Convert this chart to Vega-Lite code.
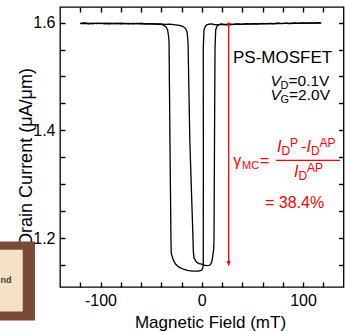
{
  "$schema": "https://vega.github.io/schema/vega-lite/v6.json",
  "width": 283.5,
  "height": 280,
  "autosize": {"type": "none"},
  "padding": {"left": 60, "top": 7, "right": 1.5, "bottom": 44},
  "background": "white",
  "data": {"values": [{}]},
  "config": {
    "view": {"stroke": "black", "strokeWidth": 1.3},
    "font": "Liberation Sans",
    "text": {"font": "Liberation Sans"},
    "axis": {"domain": false, "grid": false, "labelColor": "black", "titleColor": "black", "labelFont": "Liberation Sans", "titleFont": "Liberation Sans", "labelFontSize": 16, "titleFontWeight": "normal", "labelOverlap": false, "labelFlush": false, "labelBound": false}
  },
  "datasets": {
    "curve": [
      {"s": 1, "x": -120, "y": 1.5985}, {"s": 1, "x": -116, "y": 1.5994}, {"s": 1, "x": -112, "y": 1.5979}, {"s": 1, "x": -108, "y": 1.5991},
      {"s": 1, "x": -104, "y": 1.5981}, {"s": 1, "x": -100, "y": 1.599}, {"s": 1, "x": -96, "y": 1.5977}, {"s": 1, "x": -92, "y": 1.5988},
      {"s": 1, "x": -88, "y": 1.5982}, {"s": 1, "x": -84, "y": 1.5992}, {"s": 1, "x": -80, "y": 1.5979}, {"s": 1, "x": -76, "y": 1.5986},
      {"s": 1, "x": -72, "y": 1.5976}, {"s": 1, "x": -68, "y": 1.5985}, {"s": 1, "x": -64, "y": 1.598}, {"s": 1, "x": -60, "y": 1.5988},
      {"s": 1, "x": -56, "y": 1.5975}, {"s": 1, "x": -52, "y": 1.5982}, {"s": 1, "x": -48, "y": 1.5971}, {"s": 1, "x": -44, "y": 1.5977},
      {"s": 1, "x": -40.5, "y": 1.5966}, {"s": 1, "x": -38.3, "y": 1.5957}, {"s": 1, "x": -35.3, "y": 1.592}, {"s": 1, "x": -33.8, "y": 1.587},
      {"s": 1, "x": -33.0, "y": 1.578}, {"s": 1, "x": -32.3, "y": 1.565}, {"s": 1, "x": -31.4, "y": 1.38}, {"s": 1, "x": -30.4, "y": 1.196},
      {"s": 1, "x": -30.1, "y": 1.172}, {"s": 1, "x": -29.7, "y": 1.1686}, {"s": 1, "x": -28.1, "y": 1.1593}, {"s": 1, "x": -25.7, "y": 1.1513},
      {"s": 1, "x": -22.5, "y": 1.1458}, {"s": 1, "x": -18.2, "y": 1.142}, {"s": 1, "x": -13.3, "y": 1.1395}, {"s": 1, "x": -8.3, "y": 1.1383},
      {"s": 1, "x": -3.4, "y": 1.1383}, {"s": 1, "x": 0, "y": 1.1402}, {"s": 1, "x": 1.0, "y": 1.144}, {"s": 1, "x": 1.5, "y": 1.15},
      {"s": 1, "x": 1.6, "y": 1.35}, {"s": 1, "x": 1.5, "y": 1.553}, {"s": 1, "x": 2.2, "y": 1.5864}, {"s": 1, "x": 3.5, "y": 1.593},
      {"s": 1, "x": 4.9, "y": 1.5957}, {"s": 1, "x": 7.0, "y": 1.597}, {"s": 1, "x": 9.8, "y": 1.5976}, {"s": 1, "x": 12, "y": 1.5965},
      {"s": 1, "x": 16, "y": 1.596}, {"s": 1, "x": 20, "y": 1.5968}, {"s": 1, "x": 24, "y": 1.5961}, {"s": 1, "x": 28, "y": 1.5972},
      {"s": 1, "x": 32, "y": 1.5966}, {"s": 1, "x": 36, "y": 1.5977}, {"s": 1, "x": 40, "y": 1.5969}, {"s": 1, "x": 44, "y": 1.598},
      {"s": 1, "x": 48, "y": 1.5973}, {"s": 1, "x": 52, "y": 1.5983}, {"s": 1, "x": 56, "y": 1.5975}, {"s": 1, "x": 60, "y": 1.5985},
      {"s": 1, "x": 64, "y": 1.5978}, {"s": 1, "x": 68, "y": 1.5987}, {"s": 1, "x": 72, "y": 1.598}, {"s": 1, "x": 76, "y": 1.5989},
      {"s": 1, "x": 80, "y": 1.5982}, {"s": 1, "x": 84, "y": 1.5991}, {"s": 1, "x": 88, "y": 1.5984}, {"s": 1, "x": 92, "y": 1.5993},
      {"s": 1, "x": 96, "y": 1.5986}, {"s": 1, "x": 100, "y": 1.5994}, {"s": 1, "x": 104, "y": 1.5987}, {"s": 1, "x": 108, "y": 1.5996},
      {"s": 1, "x": 112, "y": 1.5989}, {"s": 1, "x": 116, "y": 1.5997}, {"s": 1, "x": 118, "y": 1.5993},

      {"s": 2, "x": -120, "y": 1.598}, {"s": 2, "x": -116, "y": 1.5988}, {"s": 2, "x": -112, "y": 1.5984}, {"s": 2, "x": -108, "y": 1.5978},
      {"s": 2, "x": -104, "y": 1.5989}, {"s": 2, "x": -100, "y": 1.5983}, {"s": 2, "x": -96, "y": 1.5991}, {"s": 2, "x": -92, "y": 1.5979},
      {"s": 2, "x": -88, "y": 1.5987}, {"s": 2, "x": -84, "y": 1.5978}, {"s": 2, "x": -80, "y": 1.5988}, {"s": 2, "x": -76, "y": 1.5981},
      {"s": 2, "x": -72, "y": 1.5984}, {"s": 2, "x": -68, "y": 1.5977}, {"s": 2, "x": -64, "y": 1.5986}, {"s": 2, "x": -60, "y": 1.5978},
      {"s": 2, "x": -56, "y": 1.5983}, {"s": 2, "x": -52, "y": 1.5974}, {"s": 2, "x": -48, "y": 1.598}, {"s": 2, "x": -44, "y": 1.597},
      {"s": 2, "x": -40, "y": 1.5975}, {"s": 2, "x": -36, "y": 1.5968}, {"s": 2, "x": -32, "y": 1.5972}, {"s": 2, "x": -29.6, "y": 1.5968},
      {"s": 2, "x": -26, "y": 1.596}, {"s": 2, "x": -22, "y": 1.5948}, {"s": 2, "x": -18.2, "y": 1.5926}, {"s": 2, "x": -16.0, "y": 1.589},
      {"s": 2, "x": -14.6, "y": 1.5833}, {"s": 2, "x": -13.8, "y": 1.57}, {"s": 2, "x": -13.5, "y": 1.56}, {"s": 2, "x": -11.8, "y": 1.382},
      {"s": 2, "x": -8.6, "y": 1.1965}, {"s": 2, "x": -8.3, "y": 1.1747}, {"s": 2, "x": -7.6, "y": 1.1625}, {"s": 2, "x": -5.0, "y": 1.155},
      {"s": 2, "x": -2.5, "y": 1.1525}, {"s": 2, "x": 0, "y": 1.1513}, {"s": 2, "x": 2.5, "y": 1.1497}, {"s": 2, "x": 4.9, "y": 1.1487},
      {"s": 2, "x": 7.0, "y": 1.149}, {"s": 2, "x": 8.4, "y": 1.1502}, {"s": 2, "x": 9.8, "y": 1.155}, {"s": 2, "x": 10.6, "y": 1.1625},
      {"s": 2, "x": 11.8, "y": 1.18}, {"s": 2, "x": 12.1, "y": 1.196}, {"s": 2, "x": 12.6, "y": 1.38}, {"s": 2, "x": 13.1, "y": 1.553},
      {"s": 2, "x": 13.8, "y": 1.5864}, {"s": 2, "x": 15.0, "y": 1.593}, {"s": 2, "x": 16.3, "y": 1.5957}, {"s": 2, "x": 18.0, "y": 1.5968},
      {"s": 2, "x": 19.7, "y": 1.5976}, {"s": 2, "x": 22, "y": 1.5963}, {"s": 2, "x": 26, "y": 1.597}, {"s": 2, "x": 30, "y": 1.5962},
      {"s": 2, "x": 34, "y": 1.5974}, {"s": 2, "x": 38, "y": 1.5967}, {"s": 2, "x": 42, "y": 1.5978}, {"s": 2, "x": 46, "y": 1.5971},
      {"s": 2, "x": 50, "y": 1.598}, {"s": 2, "x": 54, "y": 1.5972}, {"s": 2, "x": 58, "y": 1.5983}, {"s": 2, "x": 62, "y": 1.5976},
      {"s": 2, "x": 66, "y": 1.5985}, {"s": 2, "x": 70, "y": 1.5978}, {"s": 2, "x": 74, "y": 1.5988}, {"s": 2, "x": 78, "y": 1.5981},
      {"s": 2, "x": 82, "y": 1.599}, {"s": 2, "x": 86, "y": 1.5983}, {"s": 2, "x": 90, "y": 1.5992}, {"s": 2, "x": 94, "y": 1.5985},
      {"s": 2, "x": 98, "y": 1.5994}, {"s": 2, "x": 102, "y": 1.5988}, {"s": 2, "x": 106, "y": 1.5995}, {"s": 2, "x": 110, "y": 1.599},
      {"s": 2, "x": 114, "y": 1.5998}, {"s": 2, "x": 117, "y": 1.5994}
    ]
  },
  "layer": [
    {
      "data": {"name": "curve"},
      "mark": {"type": "line", "color": "black", "strokeWidth": 1.3},
      "encoding": {
        "x": {"field": "x", "type": "quantitative", "scale": {"domain": [-140, 140], "nice": false, "zero": false},
          "axis": {"orient": "bottom", "values": [-120, -100, -80, -60, -40, -20, 0, 20, 40, 60, 80, 100, 120],
            "ticks": true, "tickSize": -5, "tickColor": "black", "tickWidth": 1.4, "tickOpacity": 1,
            "labelExpr": "datum.value === -100 ? '-100' : datum.value === 0 ? '0' : datum.value === 100 ? '100' : ''",
            "labelBaseline": "alphabetic", "labelPadding": 23, "labelFontSize": 16,
            "title": "Magnetic Field (mT)", "titleFontSize": 17, "titleX": 150, "titleY": 40, "titleBaseline": "alphabetic"}},
        "y": {"field": "y", "type": "quantitative", "scale": {"domain": [1.109, 1.629], "nice": false, "zero": false},
          "axis": {"orient": "left", "values": [1.15, 1.2, 1.25, 1.3, 1.35, 1.4, 1.45, 1.5, 1.55, 1.6],
            "ticks": true, "tickSize": -5, "tickColor": "black", "tickWidth": 1.4, "tickOpacity": 1,
            "labelExpr": "datum.value === 1.2 ? '1.2' : datum.value === 1.4 ? '1.4' : datum.value === 1.6 ? '1.6' : ''",
            "labelPadding": 10, "labelFontSize": 16,
            "title": "Drain Current (μA/μm)", "titleFontSize": 18, "titleX": -29, "titleY": 149.5, "titleBaseline": "alphabetic"}},
        "detail": {"field": "s"},
        "order": {"value": null}
      }
    },
    {
      "mark": {"type": "rule", "color": "#ff0000", "strokeWidth": 1.3},
      "encoding": {
        "x": {"datum": 26.6, "type": "quantitative",
          "axis": {"orient": "top", "values": [-120, -100, -80, -60, -40, -20, 0, 20, 40, 60, 80, 100, 120],
            "ticks": true, "tickSize": -5, "tickColor": "black", "tickWidth": 1.4, "tickOpacity": 1, "labels": false, "title": null}},
        "y": {"datum": 1.5975, "type": "quantitative",
          "axis": {"orient": "right", "values": [1.15, 1.2, 1.25, 1.3, 1.35, 1.4, 1.45, 1.5, 1.55, 1.6],
            "ticks": true, "tickSize": -5, "tickColor": "black", "tickWidth": 1.4, "tickOpacity": 1, "labels": false, "title": null}},
        "y2": {"datum": 1.153}
      }
    },
    {
      "mark": {"type": "point", "shape": "M-1,-2.8L1,-2.8L0,0Z", "size": 16, "filled": true, "color": "#ff0000", "opacity": 1},
      "encoding": {"x": {"datum": 26.6, "type": "quantitative", "axis": null}, "y": {"datum": 1.1469, "type": "quantitative", "axis": null}}
    },
    {
      "mark": {"type": "point", "shape": "M-1,2.8L1,2.8L0,0Z", "size": 9, "filled": true, "color": "#ff0000", "opacity": 1},
      "encoding": {"x": {"datum": 26.6, "type": "quantitative", "axis": null}, "y": {"datum": 1.6022, "type": "quantitative", "axis": null}}
    },
    {
      "mark": {"type": "rule", "color": "#ff0000", "strokeWidth": 1.2},
      "encoding": {"x": {"datum": 73.4, "type": "quantitative", "axis": null}, "x2": {"datum": 136.5}, "y": {"datum": 1.3441, "type": "quantitative", "axis": null}}
    },
    {
      "mark": {"type": "text", "text": "PS-MOSFET", "fontSize": 17, "align": "left", "baseline": "alphabetic", "color": "black"},
      "encoding": {"x": {"datum": 30.86, "type": "quantitative", "axis": null}, "y": {"datum": 1.5257, "type": "quantitative", "axis": null}}
    },
    {
      "mark": {"type": "text", "text": "V", "fontSize": 15.5, "fontStyle": "italic", "align": "left", "baseline": "alphabetic", "color": "black"},
      "encoding": {"x": {"datum": 67.8, "type": "quantitative", "axis": null}, "y": {"datum": 1.4815, "type": "quantitative", "axis": null}}
    },
    {
      "mark": {"type": "text", "text": "D", "fontSize": 11, "align": "left", "baseline": "alphabetic", "color": "black"},
      "encoding": {"x": {"datum": 77.9, "type": "quantitative", "axis": null}, "y": {"datum": 1.4759, "type": "quantitative", "axis": null}}
    },
    {
      "mark": {"type": "text", "text": "=0.1V", "fontSize": 15.5, "align": "left", "baseline": "alphabetic", "color": "black"},
      "encoding": {"x": {"datum": 85.7, "type": "quantitative", "axis": null}, "y": {"datum": 1.4815, "type": "quantitative", "axis": null}}
    },
    {
      "mark": {"type": "text", "text": "V", "fontSize": 15.5, "fontStyle": "italic", "align": "left", "baseline": "alphabetic", "color": "black"},
      "encoding": {"x": {"datum": 67.8, "type": "quantitative", "axis": null}, "y": {"datum": 1.4555, "type": "quantitative", "axis": null}}
    },
    {
      "mark": {"type": "text", "text": "G", "fontSize": 11, "align": "left", "baseline": "alphabetic", "color": "black"},
      "encoding": {"x": {"datum": 77.9, "type": "quantitative", "axis": null}, "y": {"datum": 1.4499, "type": "quantitative", "axis": null}}
    },
    {
      "mark": {"type": "text", "text": "=2.0V", "fontSize": 15.5, "align": "left", "baseline": "alphabetic", "color": "black"},
      "encoding": {"x": {"datum": 86.2, "type": "quantitative", "axis": null}, "y": {"datum": 1.4555, "type": "quantitative", "axis": null}}
    },
    {
      "mark": {"type": "text", "text": "γ", "fontSize": 16, "align": "left", "baseline": "alphabetic", "color": "#ff0000"},
      "encoding": {"x": {"datum": 31.16, "type": "quantitative", "axis": null}, "y": {"datum": 1.33296, "type": "quantitative", "axis": null}}
    },
    {
      "mark": {"type": "text", "text": "MC", "fontSize": 11, "align": "left", "baseline": "alphabetic", "color": "#ff0000"},
      "encoding": {"x": {"datum": 39.75, "type": "quantitative", "axis": null}, "y": {"datum": 1.32832, "type": "quantitative", "axis": null}}
    },
    {
      "mark": {"type": "text", "text": "=", "fontSize": 16, "align": "left", "baseline": "alphabetic", "color": "#ff0000"},
      "encoding": {"x": {"datum": 57.53, "type": "quantitative", "axis": null}, "y": {"datum": 1.33296, "type": "quantitative", "axis": null}}
    },
    {
      "mark": {"type": "text", "text": "I", "fontSize": 16, "fontStyle": "italic", "align": "left", "baseline": "alphabetic", "color": "#ff0000"},
      "encoding": {"x": {"datum": 74.32, "type": "quantitative", "axis": null}, "y": {"datum": 1.35896, "type": "quantitative", "axis": null}}
    },
    {
      "mark": {"type": "text", "text": "D", "fontSize": 12, "align": "left", "baseline": "alphabetic", "color": "#ff0000"},
      "encoding": {"x": {"datum": 78.77, "type": "quantitative", "axis": null}, "y": {"datum": 1.35339, "type": "quantitative", "axis": null}}
    },
    {
      "mark": {"type": "text", "text": "P", "fontSize": 12, "align": "left", "baseline": "alphabetic", "color": "#ff0000"},
      "encoding": {"x": {"datum": 87.16, "type": "quantitative", "axis": null}, "y": {"datum": 1.36825, "type": "quantitative", "axis": null}}
    },
    {
      "mark": {"type": "text", "text": "-", "fontSize": 16, "align": "left", "baseline": "alphabetic", "color": "#ff0000"},
      "encoding": {"x": {"datum": 98.02, "type": "quantitative", "axis": null}, "y": {"datum": 1.35896, "type": "quantitative", "axis": null}}
    },
    {
      "mark": {"type": "text", "text": "I", "fontSize": 16, "fontStyle": "italic", "align": "left", "baseline": "alphabetic", "color": "#ff0000"},
      "encoding": {"x": {"datum": 103.46, "type": "quantitative", "axis": null}, "y": {"datum": 1.35896, "type": "quantitative", "axis": null}}
    },
    {
      "mark": {"type": "text", "text": "D", "fontSize": 12, "align": "left", "baseline": "alphabetic", "color": "#ff0000"},
      "encoding": {"x": {"datum": 107.9, "type": "quantitative", "axis": null}, "y": {"datum": 1.35339, "type": "quantitative", "axis": null}}
    },
    {
      "mark": {"type": "text", "text": "AP", "fontSize": 12, "align": "left", "baseline": "alphabetic", "color": "#ff0000"},
      "encoding": {"x": {"datum": 116.3, "type": "quantitative", "axis": null}, "y": {"datum": 1.36825, "type": "quantitative", "axis": null}}
    },
    {
      "mark": {"type": "text", "text": "I", "fontSize": 16, "fontStyle": "italic", "align": "left", "baseline": "alphabetic", "color": "#ff0000"},
      "encoding": {"x": {"datum": 91.11, "type": "quantitative", "axis": null}, "y": {"datum": 1.31347, "type": "quantitative", "axis": null}}
    },
    {
      "mark": {"type": "text", "text": "D", "fontSize": 12, "align": "left", "baseline": "alphabetic", "color": "#ff0000"},
      "encoding": {"x": {"datum": 95.56, "type": "quantitative", "axis": null}, "y": {"datum": 1.30789, "type": "quantitative", "axis": null}}
    },
    {
      "mark": {"type": "text", "text": "AP", "fontSize": 12, "align": "left", "baseline": "alphabetic", "color": "#ff0000"},
      "encoding": {"x": {"datum": 103.95, "type": "quantitative", "axis": null}, "y": {"datum": 1.32275, "type": "quantitative", "axis": null}}
    },
    {
      "mark": {"type": "text", "text": "= 38.4%", "fontSize": 16, "align": "left", "baseline": "alphabetic", "color": "#ff0000"},
      "encoding": {"x": {"datum": 62.47, "type": "quantitative", "axis": null}, "y": {"datum": 1.2559, "type": "quantitative", "axis": null}}
    },
    {
      "mark": {"type": "rect", "color": "#7b4a36"},
      "encoding": {"x": {"datum": -199.3, "type": "quantitative", "axis": null}, "x2": {"datum": -164.7}, "y": {"datum": 1.1933, "type": "quantitative", "axis": null}, "y2": {"datum": 1.0466}}
    },
    {
      "mark": {"type": "rect", "color": "#f7e1c6"},
      "encoding": {"x": {"datum": -199.3, "type": "quantitative", "axis": null}, "x2": {"datum": -176.8}, "y": {"datum": 1.178, "type": "quantitative", "axis": null}, "y2": {"datum": 1.0633}}
    },
    {
      "mark": {"type": "text", "text": "nd", "fontSize": 9, "fontWeight": "bold", "align": "left", "baseline": "alphabetic", "color": "#3a3a3a"},
      "encoding": {"x": {"datum": -198.8, "type": "quantitative", "axis": null}, "y": {"datum": 1.1166, "type": "quantitative", "axis": null}}
    }
  ],
  "resolve": {"axis": {"x": "independent", "y": "independent"}}
}
